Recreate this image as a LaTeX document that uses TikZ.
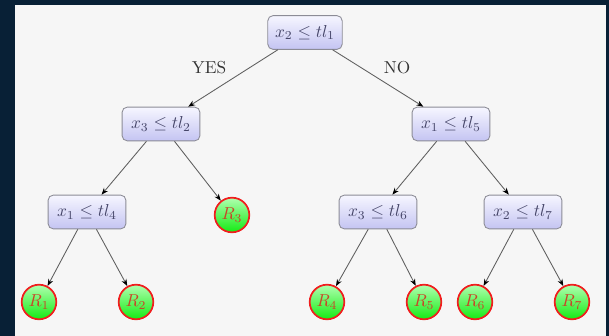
\documentclass[tikz,border=0pt]{standalone}
\usetikzlibrary{arrows.meta,shadings}

\definecolor{frame}{RGB}{8,32,54}
\definecolor{panel}{RGB}{246,246,246}
\definecolor{boxline}{RGB}{140,140,150}
\definecolor{boxtop}{RGB}{246,246,255}
\definecolor{boxbottom}{RGB}{196,196,242}
\definecolor{boxtext}{RGB}{70,70,105}
\definecolor{leafline}{RGB}{240,30,30}
\definecolor{leaftop}{RGB}{175,255,175}
\definecolor{leafbottom}{RGB}{20,235,20}
\definecolor{leaftext}{RGB}{200,70,40}
\definecolor{edgecol}{RGB}{95,95,95}

\tikzset{
  test/.style={draw=boxline, line width=0.5pt, rounded corners=3pt,
    top color=boxtop, bottom color=boxbottom, text=boxtext,
    minimum width=45pt, minimum height=19.5pt, inner sep=1pt},
  leaf/.style={circle, draw=leafline, line width=1pt,
    top color=leaftop, bottom color=leafbottom, text=leaftext,
    minimum size=20pt, inner sep=0pt},
  branch/.style={draw=edgecol, line width=0.5pt,
    -{Stealth[length=4pt,width=3pt,color=black]}},
  answer/.style={text=black!80, inner sep=0pt}
}

\begin{document}
\begin{tikzpicture}[x=0.578pt,y=-0.578pt]
  % frame and panel
  \fill[frame] (0,0) rectangle (609,336);
  \fill[panel] (15,5) rectangle (606,336);
  \useasboundingbox (0,0) rectangle (609,336);

  % decision nodes
  \node[test, minimum width=43pt] (t1) at (305,32.5) {$x_2 \leq tl_1$};
  \node[test] (t2) at (161,124) {$x_3 \leq tl_2$};
  \node[test] (t5) at (451,124) {$x_1 \leq tl_5$};
  \node[test] (t4) at (87,212) {$x_1 \leq tl_4$};
  \node[test] (t6) at (378,212) {$x_3 \leq tl_6$};
  \node[test] (t7) at (523,212) {$x_2 \leq tl_7$};

  % leaves
  \node[leaf] (r3) at (232,215) {$R_3$};
  \node[leaf] (r1) at (39,302) {$R_1$};
  \node[leaf] (r2) at (136,302) {$R_2$};
  \node[leaf] (r4) at (327,302) {$R_4$};
  \node[leaf] (r5) at (424,302) {$R_5$};
  \node[leaf] (r6) at (475,302) {$R_6$};
  \node[leaf] (r7) at (572,302) {$R_7$};

  % branches
  \draw[branch] (t1) -- (t2);
  \draw[branch] (t1) -- (t5);
  \draw[branch] (t2) -- (t4);
  \draw[branch] (t2) -- (r3);
  \draw[branch] (t5) -- (t6);
  \draw[branch] (t5) -- (t7);
  \draw[branch] (t4) -- (r1);
  \draw[branch] (t4) -- (r2);
  \draw[branch] (t6) -- (r4);
  \draw[branch] (t6) -- (r5);
  \draw[branch] (t7) -- (r6);
  \draw[branch] (t7) -- (r7);

  % branch labels
  \node[answer] (yes) at (209,68) {YES};
  \node[answer] (no) at (397,68) {NO};
\end{tikzpicture}
\end{document}
